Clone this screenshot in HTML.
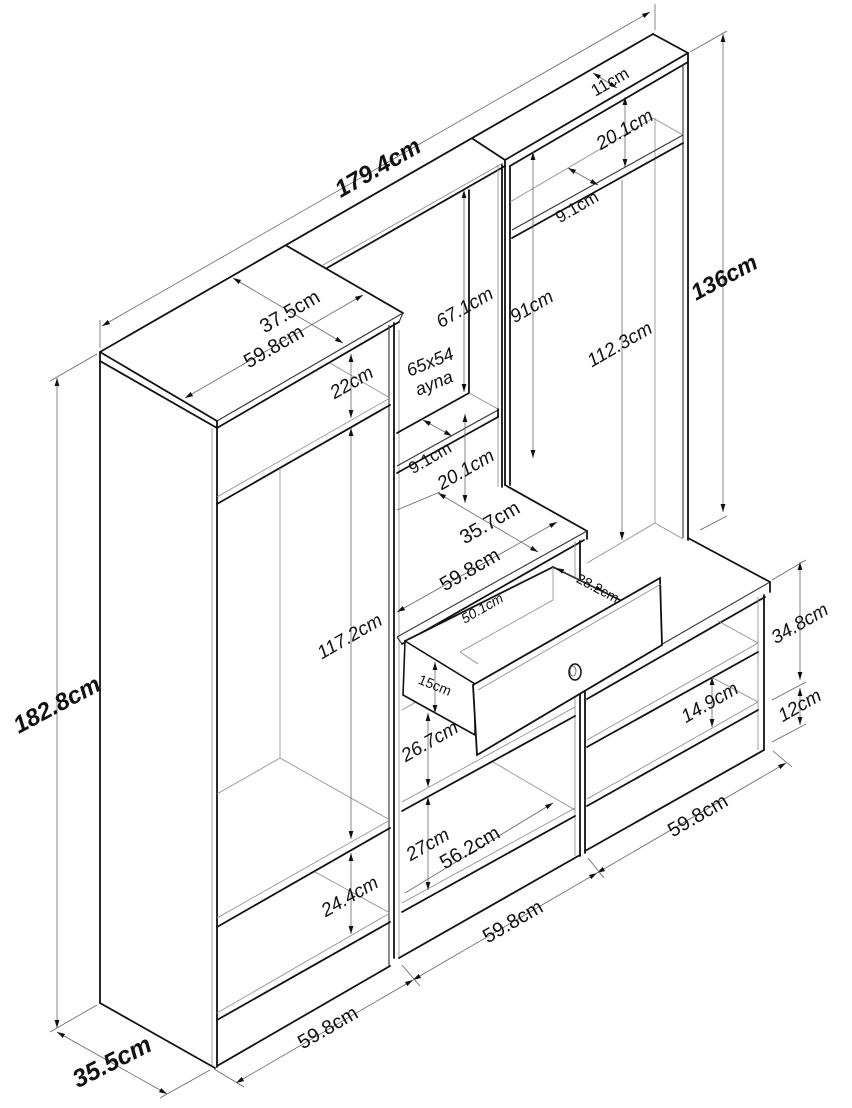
<!DOCTYPE html>
<html><head><meta charset="utf-8"><style>
html,body{margin:0;padding:0;background:#fff;}
svg{display:block;}
.k{stroke:#111;stroke-width:1.8;fill:none;stroke-linecap:round;}
.m{stroke:#333;stroke-width:1.1;fill:none;}
.t{stroke:#8a8a8a;stroke-width:0.8;fill:none;}
.d{stroke:#666;stroke-width:0.8;fill:none;}
text{font-family:"Liberation Sans",Arial,sans-serif;fill:#111;text-anchor:middle;dominant-baseline:central;}
.b{font-weight:bold;font-style:italic;font-size:24px;}
.r{font-size:20px;}
.i{font-style:italic;font-size:19px;}
.s{font-size:14px;}
.si{font-size:14px;font-style:italic;}
</style></head><body>
<svg width="852" height="1108" viewBox="0 0 852 1108" xmlns="http://www.w3.org/2000/svg">
<defs>
<marker id="a" viewBox="0 0 10 10" refX="10" refY="5" markerWidth="8" markerHeight="8" markerUnits="userSpaceOnUse" orient="auto-start-reverse"><path d="M0,2 L10,5 L0,8 z" fill="#111"/></marker>
</defs>
<rect width="852" height="1108" fill="#fff"/>

<!-- ===== LEFT CABINET ===== -->
<line class="k" x1="100" y1="352" x2="653" y2="34"/>
<line class="k" x1="100" y1="352" x2="217" y2="421"/>
<line class="m" x1="217" y1="421" x2="403" y2="313"/>
<line class="k" x1="287" y1="246" x2="403" y2="313"/>
<line class="m" x1="403" y1="313" x2="399" y2="322"/>
<line class="k" x1="100" y1="352" x2="100" y2="1003"/>
<line class="k" x1="100" y1="361" x2="217" y2="428"/>
<line class="k" x1="217" y1="421" x2="217" y2="1067"/>
<line class="t" x1="212" y1="428" x2="212" y2="1065"/>
<line class="k" x1="217" y1="428" x2="399" y2="322"/>
<line class="k" x1="100" y1="1003" x2="215" y2="1068"/>
<line class="k" x1="217" y1="1066" x2="390" y2="966"/>
<line class="m" x1="389" y1="325" x2="389" y2="966"/>
<line class="k" x1="394" y1="323" x2="394" y2="958"/>
<line class="t" x1="399" y1="330" x2="399" y2="958"/>
<!-- shelves left -->
<line class="t" x1="217" y1="497" x2="390" y2="398"/>
<line class="k" x1="217" y1="504" x2="390" y2="405"/>
<line class="t" x1="330" y1="363" x2="390" y2="398"/>
<line class="t" x1="280" y1="468" x2="280" y2="758"/>
<line class="t" x1="217" y1="918" x2="390" y2="820"/>
<line class="k" x1="217" y1="927" x2="390" y2="828"/>
<line class="t" x1="280" y1="758" x2="390" y2="820"/>
<line class="t" x1="280" y1="758" x2="217" y2="794"/>
<line class="t" x1="217" y1="1013" x2="390" y2="913"/>
<line class="k" x1="217" y1="1020" x2="390" y2="922"/>
<line class="t" x1="315" y1="872" x2="390" y2="913"/>

<!-- ===== MIDDLE UPPER ===== -->
<line class="t" x1="323" y1="265" x2="503" y2="163"/>
<line class="k" x1="327" y1="268" x2="505" y2="166"/>
<line class="t" x1="498" y1="165" x2="498" y2="487"/>
<line class="k" x1="502" y1="165" x2="502" y2="487"/>
<line class="k" x1="469" y1="190" x2="469" y2="393"/>
<line class="k" x1="397" y1="433" x2="469" y2="393"/>
<line class="t" x1="469" y1="393" x2="498" y2="409"/>
<line class="m" x1="397" y1="466" x2="498" y2="410"/>
<line class="k" x1="397" y1="473" x2="498" y2="417"/>
<line class="k" x1="498" y1="409" x2="498" y2="417"/>

<!-- ===== RIGHT TOWER ===== -->
<line class="k" x1="473" y1="139" x2="505" y2="160"/>
<line class="k" x1="505" y1="160" x2="688" y2="53"/>
<line class="k" x1="653" y1="34" x2="688" y2="53"/>
<line class="k" x1="688" y1="53" x2="688" y2="540"/>
<line class="k" x1="505" y1="160" x2="505" y2="485"/>
<line class="k" x1="510" y1="166" x2="510" y2="485"/>
<line class="k" x1="510" y1="166" x2="688" y2="62"/>
<line class="m" x1="683" y1="64" x2="683" y2="538"/>
<line class="t" x1="655" y1="118" x2="655" y2="523"/>
<line class="t" x1="510" y1="202" x2="653" y2="118"/>
<line class="t" x1="653" y1="118" x2="683" y2="135"/>
<line class="m" x1="512" y1="230" x2="683" y2="135"/>
<line class="k" x1="512" y1="238" x2="683" y2="143"/>

<!-- ===== DESK ===== -->
<line class="k" x1="505" y1="485" x2="587" y2="531"/>
<line class="k" x1="587" y1="531" x2="587" y2="539"/>
<line class="m" x1="397" y1="637" x2="587" y2="531"/>
<line class="k" x1="402" y1="644" x2="584" y2="540"/>
<line class="m" x1="397" y1="637" x2="402" y2="644"/>

<!-- ===== MIDDLE LOWER ===== -->
<line class="t" x1="575" y1="541" x2="575" y2="856"/>
<line class="k" x1="580" y1="541" x2="580" y2="856"/>
<line class="t" x1="402" y1="710" x2="416" y2="702"/>
<line class="t" x1="402" y1="802" x2="575" y2="707"/>
<line class="k" x1="402" y1="811" x2="575" y2="716"/>
<line class="t" x1="402" y1="903" x2="575" y2="808"/>
<line class="k" x1="402" y1="912" x2="575" y2="816"/>
<line class="t" x1="493" y1="762" x2="575" y2="810"/>
<line class="k" x1="399" y1="958" x2="580" y2="855"/>

<!-- ===== BENCH ===== -->
<line class="t" x1="587" y1="563" x2="655" y2="523"/>
<line class="t" x1="655" y1="523" x2="683" y2="539"/>
<line class="k" x1="688" y1="538" x2="770" y2="582"/>
<line class="k" x1="770" y1="582" x2="770" y2="592"/>
<line class="m" x1="770" y1="582" x2="600" y2="680"/>
<line class="k" x1="765" y1="597" x2="587" y2="699"/>
<line class="t" x1="758" y1="597" x2="758" y2="750"/>
<line class="k" x1="764" y1="595" x2="764" y2="750"/>
<line class="k" x1="585" y1="692" x2="585" y2="853"/>
<line class="t" x1="587" y1="740" x2="758" y2="643"/>
<line class="k" x1="587" y1="747" x2="758" y2="652"/>
<line class="t" x1="718" y1="621" x2="758" y2="643"/>
<line class="t" x1="587" y1="799" x2="758" y2="702"/>
<line class="k" x1="587" y1="806" x2="758" y2="710"/>
<line class="t" x1="713" y1="678" x2="758" y2="702"/>
<line class="k" x1="585" y1="851" x2="764" y2="750"/>

<!-- ===== DRAWER ===== -->
<polygon points="405,641 553,567 620,600 475,684" fill="#fff" stroke="none"/>
<line class="k" x1="405" y1="641" x2="553" y2="567"/>
<line class="k" x1="553" y1="567" x2="620" y2="600"/>
<line class="t" x1="553" y1="567" x2="553" y2="600"/>
<line class="t" x1="553" y1="600" x2="460" y2="652"/>
<line class="t" x1="460" y1="652" x2="478" y2="664"/>
<polygon points="405,641 475,684 475,735 403,695" fill="#fff" stroke="#111" stroke-width="1.6"/>
<polygon points="473,685 660,578 662,645 477,755" fill="#fff" stroke="#111" stroke-width="1.8"/>
<line class="t" x1="478" y1="690" x2="661" y2="584"/>
<ellipse cx="575" cy="672" rx="6" ry="8" fill="none" stroke="#111" stroke-width="1.5"/>
<ellipse cx="573" cy="671" rx="3" ry="5" fill="none" stroke="#555" stroke-width="0.8"/>

<!-- ===== DIMENSIONS ===== -->
<g class="d">
<line x1="102" y1="326" x2="650" y2="12" marker-start="url(#a)" marker-end="url(#a)"/>
<line x1="100" y1="348" x2="100" y2="320"/>
<line x1="655" y1="30" x2="655" y2="4"/>
<line x1="723" y1="34" x2="723" y2="512" marker-start="url(#a)" marker-end="url(#a)"/>
<line x1="690" y1="52" x2="727" y2="31"/>
<line x1="700" y1="530" x2="727" y2="516"/>
<line x1="57" y1="378" x2="57" y2="1028" marker-start="url(#a)" marker-end="url(#a)"/>
<line x1="97" y1="354" x2="50" y2="381"/>
<line x1="97" y1="1005" x2="50" y2="1032"/>
<line x1="57" y1="1032" x2="167" y2="1094" marker-start="url(#a)" marker-end="url(#a)"/>
<line x1="210" y1="1070" x2="160" y2="1098"/>
<line x1="236" y1="1083" x2="413" y2="980" marker-start="url(#a)" marker-end="url(#a)"/>
<line x1="413" y1="980" x2="597" y2="873" marker-start="url(#a)" marker-end="url(#a)"/>
<line x1="597" y1="873" x2="786" y2="763" marker-start="url(#a)" marker-end="url(#a)"/>
<line x1="214" y1="1069" x2="244" y2="1087"/>
<line x1="402" y1="965" x2="420" y2="986"/>
<line x1="588" y1="858" x2="604" y2="878"/>
<line x1="773" y1="751" x2="792" y2="767"/>
<line x1="233" y1="278" x2="343" y2="343" marker-start="url(#a)" marker-end="url(#a)"/>
<line x1="185" y1="398" x2="363" y2="295" marker-start="url(#a)" marker-end="url(#a)"/>
<line x1="351" y1="354" x2="351" y2="418" marker-start="url(#a)" marker-end="url(#a)"/>
<line x1="351" y1="428" x2="351" y2="839" marker-start="url(#a)" marker-end="url(#a)"/>
<line x1="351" y1="853" x2="351" y2="934" marker-start="url(#a)" marker-end="url(#a)"/>
<line x1="464" y1="190" x2="464" y2="392" marker-start="url(#a)" marker-end="url(#a)"/>
<line x1="423" y1="420" x2="452" y2="436" marker-start="url(#a)" marker-end="url(#a)"/>
<line x1="465" y1="414" x2="465" y2="503" marker-start="url(#a)" marker-end="url(#a)"/>
<line x1="438" y1="493" x2="538" y2="552" marker-start="url(#a)" marker-end="url(#a)"/>
<line x1="397" y1="510" x2="440" y2="492"/>
<line x1="397" y1="612" x2="557" y2="522" marker-start="url(#a)" marker-end="url(#a)"/>
<line x1="556" y1="568" x2="603" y2="591" marker-start="url(#a)" marker-end="url(#a)"/>
<line x1="435" y1="662" x2="435" y2="713" marker-start="url(#a)" marker-end="url(#a)"/>
<line x1="428" y1="713" x2="428" y2="787" marker-start="url(#a)" marker-end="url(#a)"/>
<line x1="428" y1="797" x2="428" y2="890" marker-start="url(#a)" marker-end="url(#a)"/>
<line x1="405" y1="893" x2="553" y2="803" marker-end="url(#a)"/>
<line x1="533" y1="152" x2="533" y2="458" marker-start="url(#a)" marker-end="url(#a)"/>
<line x1="622" y1="180" x2="622" y2="540" marker-end="url(#a)"/>
<line x1="625" y1="97" x2="625" y2="167" marker-start="url(#a)" marker-end="url(#a)"/>
<line x1="593" y1="73" x2="617" y2="88" marker-start="url(#a)" marker-end="url(#a)"/>
<line x1="568" y1="168" x2="598" y2="185" marker-start="url(#a)" marker-end="url(#a)"/>
<line x1="800" y1="562" x2="800" y2="680" marker-start="url(#a)" marker-end="url(#a)"/>
<line x1="800" y1="688" x2="800" y2="725" marker-start="url(#a)" marker-end="url(#a)"/>
<line x1="772" y1="580" x2="806" y2="560"/>
<line x1="772" y1="700" x2="806" y2="682"/>
<line x1="772" y1="742" x2="806" y2="724"/>
<line x1="712" y1="677" x2="712" y2="727" marker-start="url(#a)" marker-end="url(#a)"/>
</g>

<!-- ===== LABELS ===== -->
<text class="b" x="378" y="168" transform="rotate(-30 378 168)">179.4cm</text>
<text class="b" x="724" y="277" transform="rotate(-28 724 277)" style="font-size:23px">136cm</text>
<text class="b" x="57" y="705" transform="rotate(-28 57 705)">182.8cm</text>
<text class="b" x="112" y="1062" transform="rotate(-27 112 1062)" style="font-size:25px">35.5cm</text>
<text class="r" x="290" y="312" transform="rotate(-30 290 312)">37.5cm</text>
<text class="r" x="274" y="347" transform="rotate(-30 274 347)">59.8cm</text>
<text class="i" x="352" y="383" transform="rotate(-30 352 383)">22cm</text>
<text class="i" x="350" y="637" transform="rotate(-30 350 637)">117.2cm</text>
<text class="i" x="350" y="897" transform="rotate(-30 350 897)">24.4cm</text>
<text class="r" x="328" y="1028" transform="rotate(-30 328 1028)">59.8cm</text>
<text class="i" x="465" y="308" transform="rotate(-30 465 308)">67.1cm</text>
<text class="i" x="430" y="362" transform="rotate(-22 430 362)" style="font-size:18px">65x54</text>
<text class="i" x="434" y="383" transform="rotate(-22 434 383)" style="font-size:18px">ayna</text>
<text class="i" x="532" y="307" transform="rotate(-30 532 307)">91cm</text>
<text class="i" x="620" y="345" transform="rotate(-30 620 345)">112.3cm</text>
<text class="i" x="625" y="130" transform="rotate(-30 625 130)">20.1cm</text>
<text class="r" x="610" y="82" transform="rotate(-30 610 82)" style="font-size:17px">11cm</text>
<text class="r" x="577" y="207" transform="rotate(-30 577 207)" style="font-size:17px">9.1cm</text>
<text class="r" x="430" y="458" transform="rotate(-30 430 458)" style="font-size:17px">9.1cm</text>
<text class="i" x="466" y="470" transform="rotate(-30 466 470)">20.1cm</text>
<text class="r" x="490" y="523" transform="rotate(-30 490 523)">35.7cm</text>
<text class="r" x="470" y="570" transform="rotate(-30 470 570)">59.8cm</text>
<text class="si" x="482" y="608" transform="rotate(-30 482 608)">50.1cm</text>
<text class="s" x="598" y="588" transform="rotate(28 598 588)">28.2cm</text>
<text class="s" x="435" y="685" transform="rotate(22 435 685)">15cm</text>
<text class="i" x="430" y="742" transform="rotate(-30 430 742)">26.7cm</text>
<text class="i" x="428" y="845" transform="rotate(-30 428 845)">27cm</text>
<text class="r" x="470" y="848" transform="rotate(-30 470 848)">56.2cm</text>
<text class="r" x="513" y="922" transform="rotate(-30 513 922)">59.8cm</text>
<text class="r" x="698" y="816" transform="rotate(-30 698 816)">59.8cm</text>
<text class="i" x="800" y="624" transform="rotate(-30 800 624)">34.8cm</text>
<text class="i" x="800" y="706" transform="rotate(-30 800 706)">12cm</text>
<text class="i" x="710" y="703" transform="rotate(-30 710 703)">14.9cm</text>
</svg>
</body></html>
